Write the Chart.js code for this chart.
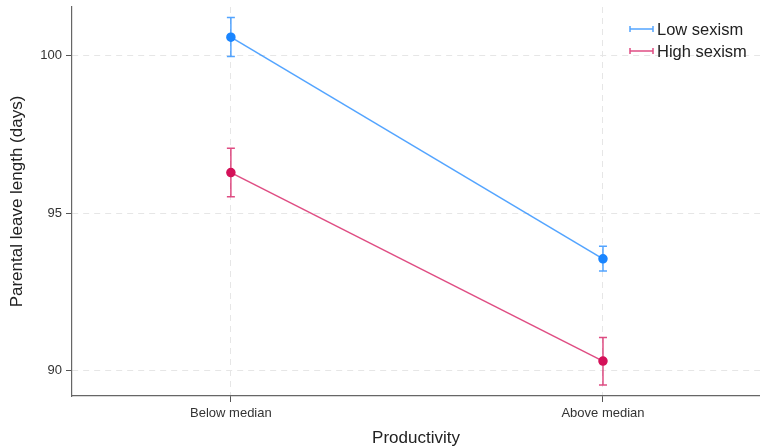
<!DOCTYPE html>
<html><head><meta charset="utf-8">
<script src="https://cdn.jsdelivr.net/npm/chart.js@4"></script>
<style>html,body{margin:0;padding:0;background:#fff}#wrap{width:760px;height:447px}</style>
</head><body><div id="wrap"><canvas id="c"></canvas></div>
<script>
const categories = ["Below median", "Above median"];
const seriesNames = ["Low sexism", "High sexism"];
const lowMean = [100.59, 93.55];
const lowHi = [101.22, 93.95];
const lowLo = [99.98, 93.16];
const highMean = [96.29, 90.30];
const highHi = [97.06, 91.05];
const highLo = [95.52, 89.54];
const yTicks = [90, 95, 100];
const colors = ["#1a85ff", "#d41159"];
const lineColors = ["rgba(26,133,255,0.75)", "rgba(212,17,89,0.75)"];

const ciSets = [{hi: lowHi, lo: lowLo}, {hi: highHi, lo: highLo}];

const errorBars = {
  id: 'errorBars',
  afterDatasetsDraw(chart) {
    const ctx = chart.ctx, xs = chart.scales.x, ys = chart.scales.y;
    ciSets.forEach((ci, s) => {
      ctx.save();
      ctx.strokeStyle = lineColors[s];
      ctx.lineWidth = 1.5;
      categories.forEach((c, i) => {
        const x = xs.getPixelForValue(i);
        const y1 = ys.getPixelForValue(ci.hi[i]);
        const y2 = ys.getPixelForValue(ci.lo[i]);
        ctx.beginPath();
        ctx.moveTo(x, y1); ctx.lineTo(x, y2);
        ctx.moveTo(x - 4, y1); ctx.lineTo(x + 4, y1);
        ctx.moveTo(x - 4, y2); ctx.lineTo(x + 4, y2);
        ctx.stroke();
      });
      ctx.restore();
    });
    // legend
    ctx.save();
    ctx.font = '16.5px "Liberation Sans", Arial, sans-serif';
    ctx.textBaseline = 'middle';
    seriesNames.forEach((n, s) => {
      const y = 29 + s * 22;
      ctx.strokeStyle = lineColors[s];
      ctx.lineWidth = 1.5;
      ctx.beginPath();
      ctx.moveTo(630, y); ctx.lineTo(653, y);
      ctx.moveTo(630, y - 3); ctx.lineTo(630, y + 3);
      ctx.moveTo(653, y - 3); ctx.lineTo(653, y + 3);
      ctx.stroke();
      ctx.fillStyle = '#222';
      ctx.fillText(n, 657, y + 1);
    });
    ctx.restore();
  }
};

const mk = (arr) => arr.map((v, i) => ({x: i, y: v}));

new Chart(document.getElementById('c'), {
  type: 'line',
  data: {
    datasets: [
      {label: seriesNames[0], data: mk(lowMean), borderColor: lineColors[0], backgroundColor: colors[0],
       pointBackgroundColor: colors[0], pointBorderColor: colors[0], pointRadius: 4, borderWidth: 1.5, order: 1},
      {label: seriesNames[1], data: mk(highMean), borderColor: lineColors[1], backgroundColor: colors[1],
       pointBackgroundColor: colors[1], pointBorderColor: colors[1], pointRadius: 4, borderWidth: 1.5, order: 2}
    ]
  },
  options: {
    responsive: true, maintainAspectRatio: false, animation: false,
    layout: {autoPadding: false, padding: {top: 7, right: 0, left: 0, bottom: 0}},
    plugins: {legend: {display: false}, tooltip: {enabled: false}},
    scales: {
      x: {
        type: 'linear', min: -0.427, max: 1.422,
        afterBuildTicks: (s) => { s.ticks = categories.map((c, i) => ({value: i})); },
        afterFit: (s) => { s.height = 51; s.paddingRight = 0; s.paddingLeft = 0; },
        ticks: {callback: (v) => categories[v] ?? '', color: '#333', font: {family: '"Liberation Sans", Arial', size: 13}, padding: 4, maxRotation: 0},
        grid: {color: '#e6e6e6', tickColor: '#555', tickLength: 6, lineWidth: 1},
        border: {display: true, color: '#666', width: 1.2, dash: [6, 5]},
        title: {display: true, text: 'Productivity', color: '#222', font: {family: '"Liberation Sans", Arial', size: 17}, padding: {top: 0, bottom: -2}}
      },
      y: {
        type: 'linear', min: 89.19, max: 101.55,
        afterBuildTicks: (s) => { s.ticks = yTicks.map(v => ({value: v})); },
        afterFit: (s) => { s.width = 72; s.paddingTop = 0; s.paddingBottom = 0; },
        ticks: {color: '#333', font: {family: '"Liberation Sans", Arial', size: 13}, padding: 4},
        grid: {color: '#e6e6e6', tickColor: '#555', tickLength: 6, lineWidth: 1},
        border: {display: true, color: '#666', width: 1.2, dash: [6, 5]},
        title: {display: true, text: 'Parental leave length (days)', color: '#222', font: {family: '"Liberation Sans", Arial', size: 17}, padding: {top: 7, bottom: 0}}
      }
    }
  },
  plugins: [errorBars]
});
</script>
</body></html>
